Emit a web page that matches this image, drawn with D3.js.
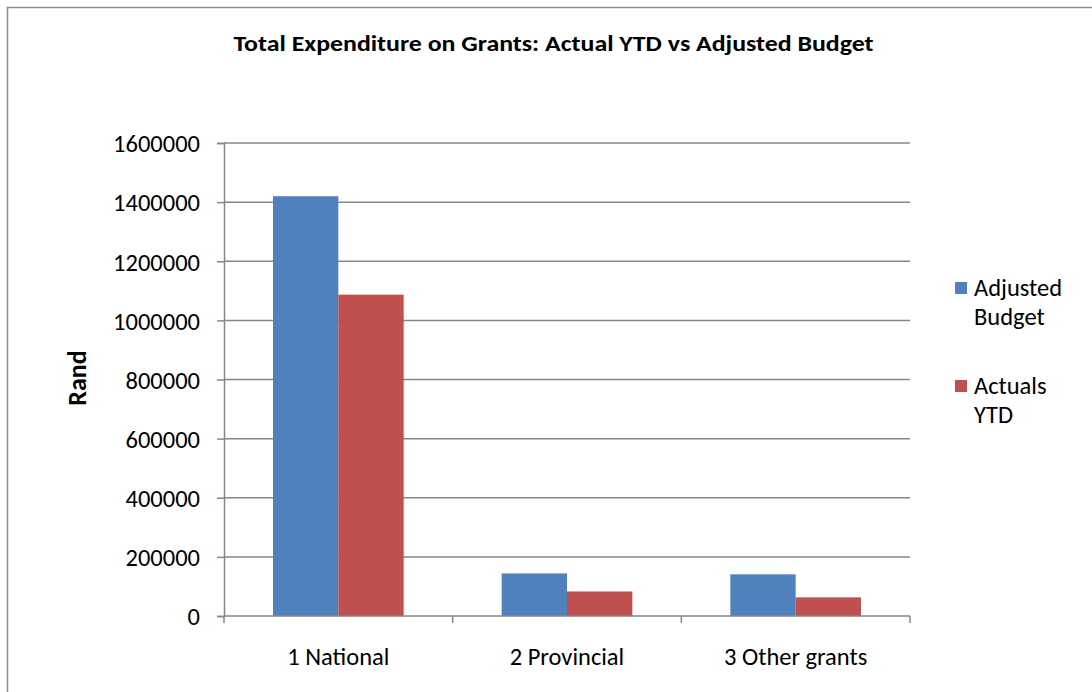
<!DOCTYPE html>
<html>
<head>
<meta charset="utf-8">
<script src="https://cdn.jsdelivr.net/npm/d3@7"></script>
<style>
  html, body { margin: 0; padding: 0; background: #fff; }
  svg { display: block; }
  text { font-family: Carlito, Calibri, Lato, "Open Sans", sans-serif; fill: #000; }
</style>
</head>
<body>
<svg id="chart" width="1092" height="692"></svg>
<script>
// Grant categories and the two series (Rand)
const categories = ["1 National", "2 Provincial", "3 Other grants"];
const seriesNames = ["Adjusted Budget", "Actuals YTD"];
const adjustedBudget = [1420000, 144000, 141000];
const actualsYTD = [1087000, 83000, 63000];
const yTicks = [0, 200000, 400000, 600000, 800000, 1000000, 1200000, 1400000, 1600000];
const seriesColors = ["#4F81BD", "#C0504D"];

const svg = d3.select("#chart");
const W = 1092, H = 692;
const plot = { left: 224, right: 910, top: 143, bottom: 616 };
const labelSize = 24.5;

// Chart area border
svg.append("rect")
  .attr("x", 7.5).attr("y", 7.5)
  .attr("width", W).attr("height", H)
  .attr("fill", "#fff").attr("stroke", "#8c8c8c").attr("stroke-width", 1.5);

// Title
svg.append("text")
  .attr("x", 553.5).attr("y", 51)
  .attr("text-anchor", "middle")
  .attr("font-size", 23).attr("font-weight", "bold")
  .attr("textLength", 640).attr("lengthAdjust", "spacingAndGlyphs")
  .text("Total Expenditure on Grants: Actual YTD vs Adjusted Budget");

const x0 = d3.scaleBand().domain(categories).range([plot.left, plot.right]);
const x1 = d3.scaleBand().domain(seriesNames)
  .range([0, x0.bandwidth()]).paddingOuter(0.75).paddingInner(0);
const y = d3.scaleLinear().domain([0, 1600000]).range([plot.bottom, plot.top]);

// Horizontal gridlines
svg.append("g")
  .selectAll("line")
  .data(yTicks.filter(d => d > 0))
  .join("line")
  .attr("x1", plot.left).attr("x2", plot.right)
  .attr("y1", d => y(d)).attr("y2", d => y(d))
  .attr("stroke", "#868686").attr("stroke-width", 1.5);

// Bars
const rows = categories.map((c, i) => ({ cat: c, vals: [adjustedBudget[i], actualsYTD[i]] }));
const groups = svg.append("g").selectAll("g")
  .data(rows).join("g")
  .attr("transform", d => `translate(${x0(d.cat)},0)`);
groups.selectAll("rect")
  .data(d => d.vals.map((v, j) => ({ name: seriesNames[j], v, j })))
  .join("rect")
  .attr("x", d => x1(d.name))
  .attr("width", x1.bandwidth())
  .attr("y", d => y(d.v))
  .attr("height", d => y(0) - y(d.v))
  .attr("fill", d => seriesColors[d.j]);

// Y axis
const yAxis = svg.append("g")
  .attr("transform", `translate(${plot.left},0)`)
  .call(d3.axisLeft(y).tickValues(yTicks).tickFormat(d3.format("d")).tickSize(7).tickPadding(17));
yAxis.select(".domain").attr("stroke", "#868686").attr("stroke-width", 1.5);
yAxis.selectAll(".tick line").attr("stroke", "#868686").attr("stroke-width", 1.5);
yAxis.selectAll(".tick text")
  .attr("font-size", labelSize).attr("font-family", "Carlito, Calibri, Lato, sans-serif")
  .attr("dy", "0.36em");

// X axis with ticks at category boundaries
const xg = svg.append("g");
xg.append("line")
  .attr("x1", plot.left).attr("x2", plot.right)
  .attr("y1", plot.bottom).attr("y2", plot.bottom)
  .attr("stroke", "#868686").attr("stroke-width", 1.5);
const bounds = categories.map(c => x0(c)).concat([x0(categories[categories.length - 1]) + x0.bandwidth()]);
xg.selectAll("line.tk").data(bounds).join("line").attr("class", "tk")
  .attr("x1", d => d).attr("x2", d => d)
  .attr("y1", plot.bottom).attr("y2", plot.bottom + 7)
  .attr("stroke", "#868686").attr("stroke-width", 1.5);
xg.selectAll("text").data(categories).join("text")
  .attr("x", d => x0(d) + x0.bandwidth() / 2)
  .attr("y", 665)
  .attr("text-anchor", "middle")
  .attr("font-size", labelSize)
  .text(d => d);

// Y axis title
svg.append("text")
  .attr("transform", "translate(86,378) rotate(-90)")
  .attr("text-anchor", "middle")
  .attr("font-size", 26).attr("font-weight", "bold")
  .text("Rand");

// Legend
const legendItems = [
  { lines: ["Adjusted", "Budget"], color: seriesColors[0], top: 282 },
  { lines: ["Actuals", "YTD"], color: seriesColors[1], top: 380 }
];
const lg = svg.append("g").selectAll("g").data(legendItems).join("g");
lg.append("rect")
  .attr("x", 955).attr("y", d => d.top)
  .attr("width", 12).attr("height", 12)
  .attr("fill", d => d.color);
lg.each(function (d) {
  d3.select(this).selectAll("text").data(d.lines).join("text")
    .attr("x", 974)
    .attr("y", (t, i) => d.top + 14 + i * 29)
    .attr("font-size", labelSize)
    .text(t => t);
});
</script>
</body>
</html>
